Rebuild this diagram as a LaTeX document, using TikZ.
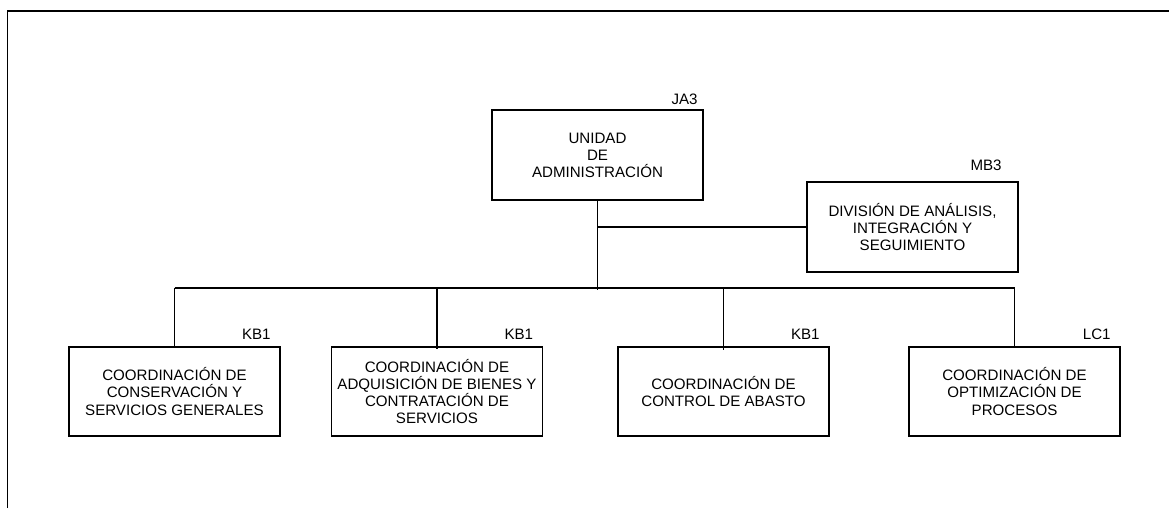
\documentclass[tikz,border=0pt]{standalone}
\usepackage{fontspec}
\setmainfont{Liberation Sans}
\usetikzlibrary{positioning,calc}

\begin{document}
\begin{tikzpicture}[
    unit/.style={draw, line width=1.1pt, minimum width=4.22cm,
                 minimum height=1.8cm, inner sep=2pt, align=center,
                 font=\fontsize{8.6}{9.7}\selectfont},
    grade/.style={inner sep=0pt, font=\fontsize{8.6}{9.7}\selectfont},
    link/.style={line width=1.1pt}
  ]

    \useasboundingbox (0,0) rectangle (23.38,10.16);

    %% ── page frame (open right and bottom) ───────────
    \draw[line width=1.1pt] (0.15,0) -- (0.15,9.94) -- (23.38,9.94);

    %% ── head unit ────────────────────────────────────
    \node[unit] (ua) at (11.95,7.06)
      {UNIDAD\\DE\\ADMINISTRACIÓN};
    \node[grade, above left=0.09cm and 0.12cm of ua.north east]
      (ua-gr) {JA3};

    %% ── staff division ───────────────────────────────
    \node[unit] (dais) at (18.25,5.62)
      {DIVISIÓN DE ANÁLISIS,\\INTEGRACIÓN Y\\SEGUIMIENTO};
    \node[grade, above left=0.21cm and 0.34cm of dais.north east]
      (dais-gr) {MB3};

    %% junction points
    \coordinate (hub) at (11.95,4.36);
    \coordinate (bus) at (0,4.40);

    %% ── four coordinations ───────────────────────────
    \foreach \xx/\nm/\gr/\dip/\txt in {
        3.49/ccsg/KB1/0/{COORDINACIÓN DE\\CONSERVACIÓN Y\\SERVICIOS GENERALES},
        8.74/cabs/KB1/0.05/{COORDINACIÓN DE\\ADQUISICIÓN DE BIENES Y\\CONTRATACIÓN DE\\SERVICIOS},
        14.47/ccab/KB1/0.08/{COORDINACIÓN DE\\CONTROL DE ABASTO},
        20.29/cop/LC1/0/{COORDINACIÓN DE\\OPTIMIZACIÓN DE\\PROCESOS}}{
      \node[unit, minimum height=1.78cm] (\nm) at (\xx,2.33) {\txt};
      \node[grade, above left=0.13cm and 0.2cm of \nm.north east]
        (\nm-gr) {\gr};
      \draw[link] (\nm.north |- bus) -- ([yshift=-\dip cm]\nm.north);
    }

    %% ── connectors ───────────────────────────────────
    \draw[link] (ua.south) -- (hub);
    \draw[link] (ua.south |- dais.west) -- (dais.west);
    \draw[link] (ccsg.north |- bus) -- (cop.north |- bus);

\end{tikzpicture}
\end{document}
